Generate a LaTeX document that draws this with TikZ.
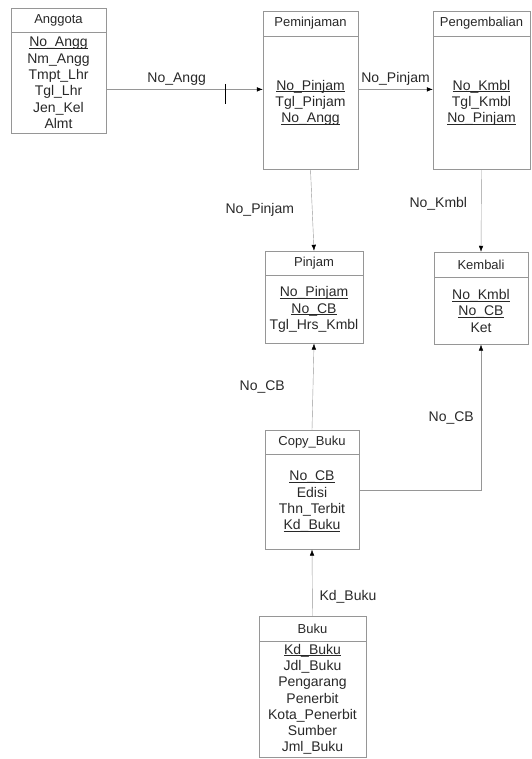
\documentclass[tikz,border=0pt]{standalone}
\usepackage{fontspec}
\setmainfont{Liberation Sans}
\usetikzlibrary{positioning,arrows.meta}
\definecolor{cLine}{RGB}{150,150,150}
\definecolor{cText}{RGB}{40,40,40}
\newcommand{\keyattr}[1]{\underline{\smash{#1}}\vphantom{#1}}

\begin{document}
\begin{tikzpicture}[x=1pt,y=-1pt,
  hd/.style={draw=cLine,inner sep=0pt,text=cText,font=\fontsize{13}{15}\selectfont},
  bd/.style={draw=cLine,inner sep=0pt,text=cText,align=center,font=\fontsize{14}{16.3}\selectfont},
  rel/.style={draw=cLine,-{Latex[length=6pt,width=4.5pt,color=black]}},
  lbl/.style={text=cText,font=\fontsize{14}{16}\selectfont,inner sep=0pt}]
\useasboundingbox (0,0) rectangle (531,759);
% entities
\node[hd,minimum width=95,minimum height=24] (angH) at (58.5,20) {Anggota};
\node[bd,minimum width=95,minimum height=101,below=0pt of angH] (angB)
  {\keyattr{No\_Angg}\\Nm\_Angg\\Tmpt\_Lhr\\Tgl\_Lhr\\Jen\_Kel\\Almt};
\node[hd,minimum width=95,minimum height=25] (pemH) at (310.5,23.5) {Peminjaman};
\node[bd,minimum width=95,minimum height=133,below=0pt of pemH] (pemB)
  {\keyattr{No\_Pinjam}\\Tgl\_Pinjam\\\keyattr{No\_Angg}};
\node[hd,minimum width=97,minimum height=25] (pgbH) at (481.5,23.5) {Pengembalian};
\node[bd,minimum width=97,minimum height=133,below=0pt of pgbH] (pgbB)
  {\keyattr{No\_Kmbl}\\Tgl\_Kmbl\\\keyattr{No\_Pinjam}};
\node[hd,minimum width=98,minimum height=24] (pjmH) at (314,263) {Pinjam};
\node[bd,minimum width=98,minimum height=68,below=0pt of pjmH] (pjmB)
  {\keyattr{No\_Pinjam}\\\keyattr{No\_CB}\\Tgl\_Hrs\_Kmbl};
\node[hd,minimum width=94,minimum height=25] (kmbH) at (481,264.5) {Kembali};
\node[bd,minimum width=94,minimum height=67,below=0pt of kmbH] (kmbB)
  {\keyattr{No\_Kmbl}\\\keyattr{No\_CB}\\Ket};
\node[hd,minimum width=94,minimum height=24] (cbH) at (312,442) {Copy\_Buku};
\node[bd,minimum width=94,minimum height=95,below=0pt of cbH] (cbB)
  {\keyattr{No\_CB}\\Edisi\\Thn\_Terbit\\\keyattr{Kd\_Buku}};
\node[hd,minimum width=107,minimum height=25] (bkH) at (312.5,628.5) {Buku};
\node[bd,minimum width=107,minimum height=116,below=0pt of bkH] (bkB)
  {\keyattr{Kd\_Buku}\\Jdl\_Buku\\Pengarang\\Penerbit\\Kota\_Penerbit\\Sumber\\Jml\_Buku};
% relations
\coordinate (a1) at ([yshift=13.5]pemB.west);
\draw[rel] (a1 -| angB.east) -- node[lbl,pos=0.45,above=4pt] {No\_Angg} coordinate[pos=0.758] (t1) (a1);
\draw[black,line width=0.8pt] ([yshift=5.5]t1) -- ([yshift=-14.5]t1);
\draw[rel] ([yshift=13.5]pemB.east) -- node[lbl,above=4pt] {No\_Pinjam} ([yshift=13.5]pgbB.west);
\draw[rel] (pemB.south) -- node[lbl,left=18pt] {No\_Pinjam} (pjmH.north);
\draw[rel] (pgbB.south) -- node[lbl,pos=0.42,left=14pt] {No\_Kmbl} (kmbH.north);
\draw[rel] (cbH.north) -- node[lbl,left=28pt] {No\_CB} (pjmB.south);
\draw[rel] ([yshift=11.5]cbB.east) -| node[lbl,pos=0.75,left=7pt] {No\_CB} (kmbB.south);
\draw[rel] (bkH.north) -- node[lbl,pos=0.28,right=7pt] {Kd\_Buku} (cbB.south);
\end{tikzpicture}
\end{document}
